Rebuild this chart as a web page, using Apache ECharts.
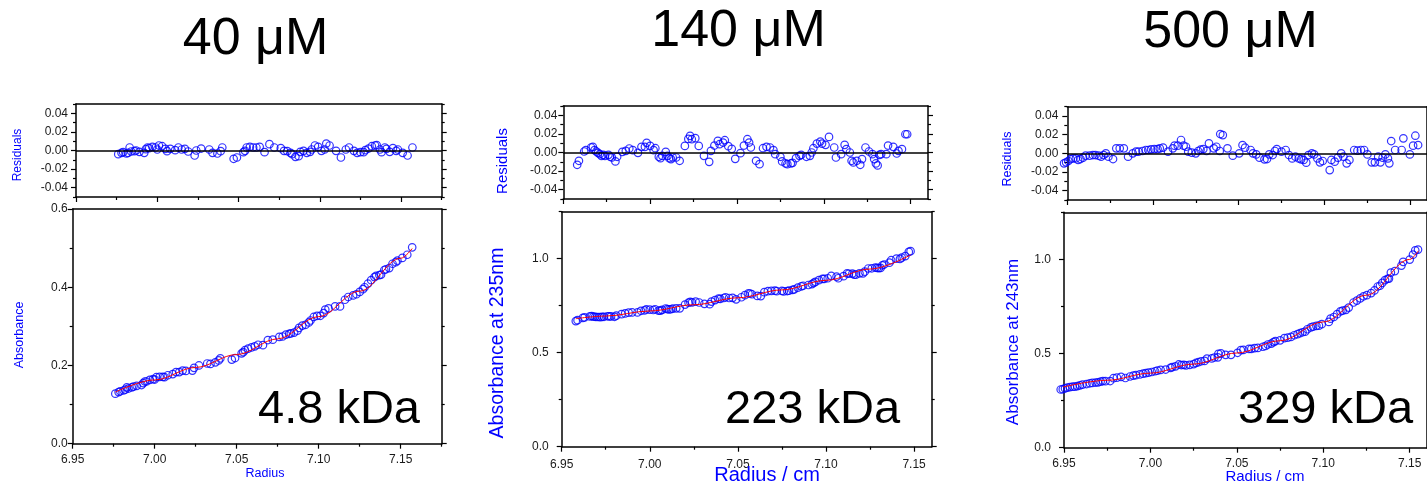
<!DOCTYPE html>
<html><head><meta charset="utf-8">
<script src="https://cdn.jsdelivr.net/npm/echarts@6/dist/echarts.min.js"></script>
<style>html,body{margin:0;padding:0;background:#fff}#c{width:1427px;height:483px}</style>
</head><body><div id="c"></div>
<script>
// ---------- data ----------
const titles = ['40 μM', '140 μM', '500 μM'];
const massLabels = ['4.8 kDa', '223 kDa', '329 kDa'];
const yTitles = ['Absorbance', 'Absorbance at 235nm', 'Absorbance at 243nm'];
const xTitles = ['Radius', 'Radius / cm', 'Radius / cm'];

const radius40 = [6.976,6.978,6.979,6.981,6.982,6.983,6.984,6.986,6.987,6.989,
6.992,6.993,6.994,6.995,6.997,6.999,7.000,7.001,7.003,7.005,
7.006,7.008,7.011,7.013,7.015,7.017,7.019,7.023,7.024,7.027,
7.032,7.034,7.037,7.039,7.040,7.047,7.049,7.053,7.054,7.055,
7.057,7.059,7.061,7.063,7.066,7.069,7.072,7.076,7.078,7.080,
7.082,7.083,7.085,7.087,7.088,7.090,7.092,7.094,7.095,7.097,
7.099,7.101,7.103,7.104,7.106,7.110,7.113,7.116,7.118,7.121,
7.123,7.125,7.127,7.128,7.130,7.132,7.134,7.135,7.137,7.138,
7.140,7.141,7.143,7.145,7.147,7.148,7.151,7.154,7.157];
const absorbance40 = [0.128,0.132,0.134,0.136,0.138,0.144,0.141,0.144,0.146,0.148,
0.150,0.155,0.159,0.159,0.163,0.165,0.164,0.170,0.171,0.171,
0.170,0.175,0.178,0.183,0.183,0.187,0.186,0.187,0.194,0.200,
0.205,0.204,0.208,0.213,0.218,0.215,0.219,0.231,0.234,0.239,
0.243,0.246,0.249,0.253,0.252,0.265,0.266,0.273,0.274,0.279,
0.281,0.282,0.284,0.289,0.296,0.302,0.304,0.310,0.315,0.324,
0.327,0.327,0.334,0.343,0.346,0.351,0.351,0.368,0.375,0.379,
0.382,0.388,0.395,0.400,0.409,0.418,0.426,0.429,0.431,0.432,
0.444,0.446,0.449,0.460,0.464,0.468,0.475,0.483,0.502];
const residual40 = [-0.0039,-0.0025,-0.0018,-0.0032,-0.0025,0.0032,-0.0011,-0.0007,0.0000,-0.0014,
-0.0025,0.0014,0.0032,0.0025,0.0039,0.0032,0.0011,0.0054,0.0046,0.0018,
-0.0007,0.0018,0.0004,0.0032,0.0011,0.0018,-0.0011,-0.0054,0.0000,0.0021,
0.0011,-0.0025,-0.0032,-0.0007,0.0032,-0.0089,-0.0075,-0.0018,-0.0004,0.0032,
0.0039,0.0032,0.0032,0.0039,-0.0018,0.0068,0.0032,0.0025,-0.0004,-0.0007,
-0.0025,-0.0039,-0.0068,-0.0061,-0.0014,-0.0004,-0.0025,-0.0014,0.0011,0.0054,
0.0039,-0.0004,0.0011,0.0075,0.0054,-0.0004,-0.0075,0.0011,0.0032,-0.0004,
-0.0025,-0.0018,-0.0018,0.0004,0.0021,0.0046,0.0054,0.0057,0.0011,-0.0018,
0.0032,0.0018,-0.0014,0.0025,-0.0004,0.0011,-0.0025,-0.0054,0.0032];
const fitRadius40 = [6.976,7.000,7.025,7.050,7.075,7.100,7.125,7.150,7.157];
const fitAbsorbance40 = [0.132,0.163,0.195,0.228,0.268,0.325,0.390,0.474,0.499];

const radius140 = [6.958,6.959,6.962,6.963,6.966,6.967,6.968,6.969,6.970,6.971,
6.972,6.973,6.974,6.976,6.977,6.978,6.980,6.981,6.984,6.986,
6.988,6.990,6.993,6.995,6.997,6.998,7.000,7.002,7.003,7.005,
7.006,7.007,7.009,7.010,7.011,7.012,7.013,7.015,7.017,7.020,
7.022,7.023,7.024,7.026,7.028,7.031,7.034,7.035,7.037,7.039,
7.040,7.042,7.043,7.045,7.047,7.049,7.052,7.054,7.056,7.057,
7.058,7.061,7.063,7.065,7.067,7.069,7.071,7.072,7.075,7.076,
7.078,7.079,7.081,7.082,7.084,7.086,7.087,7.090,7.092,7.093,
7.094,7.096,7.098,7.099,7.101,7.103,7.106,7.107,7.110,7.112,
7.113,7.115,7.116,7.117,7.119,7.121,7.122,7.124,7.126,7.128,
7.129,7.130,7.131,7.132,7.133,7.136,7.137,7.140,7.142,7.143,
7.145,7.147,7.148];
const absorbance140 = [0.668,0.673,0.685,0.688,0.693,0.695,0.692,0.691,0.690,0.690,
0.689,0.691,0.691,0.694,0.693,0.693,0.691,0.697,0.705,0.709,
0.713,0.714,0.714,0.723,0.725,0.730,0.729,0.727,0.731,0.724,
0.724,0.728,0.735,0.732,0.730,0.731,0.734,0.736,0.736,0.756,
0.766,0.770,0.768,0.772,0.767,0.760,0.758,0.772,0.780,0.788,
0.786,0.791,0.795,0.791,0.792,0.784,0.795,0.806,0.816,0.815,
0.811,0.802,0.801,0.822,0.827,0.829,0.830,0.827,0.829,0.826,
0.828,0.830,0.834,0.837,0.846,0.853,0.856,0.860,0.865,0.871,
0.877,0.886,0.893,0.893,0.896,0.909,0.905,0.896,0.907,0.922,
0.920,0.921,0.915,0.915,0.922,0.922,0.931,0.948,0.949,0.953,
0.951,0.950,0.951,0.965,0.969,0.979,0.992,1.000,0.999,1.006,
1.014,1.036,1.040];
const residual140 = [-0.0132,-0.0089,0.0011,0.0025,0.0054,0.0061,0.0025,0.0011,-0.0004,-0.0018,
-0.0036,-0.0025,-0.0036,-0.0025,-0.0046,-0.0054,-0.0096,-0.0046,0.0007,0.0018,
0.0043,0.0025,-0.0004,0.0061,0.0061,0.0104,0.0071,0.0025,0.0046,-0.0046,
-0.0061,-0.0036,0.0007,-0.0036,-0.0061,-0.0071,-0.0054,-0.0054,-0.0089,0.0071,
0.0146,0.0179,0.0143,0.0154,0.0071,-0.0036,-0.0100,0.0018,0.0075,0.0125,
0.0089,0.0107,0.0132,0.0068,0.0039,-0.0068,-0.0007,0.0075,0.0143,0.0107,
0.0054,-0.0089,-0.0125,0.0046,0.0061,0.0054,0.0025,-0.0018,-0.0046,-0.0096,
-0.0118,-0.0125,-0.0118,-0.0111,-0.0061,-0.0036,-0.0025,-0.0046,-0.0036,0.0000,
0.0046,0.0096,0.0118,0.0096,0.0082,0.0168,0.0054,-0.0054,-0.0018,0.0082,
0.0036,0.0000,-0.0089,-0.0107,-0.0089,-0.0132,-0.0071,0.0054,0.0011,-0.0018,
-0.0071,-0.0118,-0.0139,-0.0025,-0.0018,-0.0018,0.0075,0.0061,-0.0011,0.0018,
0.0036,0.0196,0.0196];
const fitRadius140 = [6.958,6.975,7.000,7.025,7.050,7.075,7.100,7.125,7.148];
const fitAbsorbance140 = [0.681,0.695,0.722,0.755,0.792,0.834,0.885,0.945,1.020];

const radius500 = [6.9481,6.9493,6.9506,6.9519,6.9534,6.9550,6.9563,6.9577,6.9592,6.9607,
6.9630,6.9649,6.9664,6.9683,6.9697,6.9712,6.9725,6.9740,6.9767,6.9786,
6.9806,6.9830,6.9855,6.9882,6.9901,6.9916,6.9939,6.9958,6.9973,6.9989,
7.0008,7.0027,7.0040,7.0059,7.0088,7.0116,7.0126,7.0145,7.0164,7.0179,
7.0193,7.0206,7.0227,7.0250,7.0264,7.0278,7.0294,7.0313,7.0327,7.0355,
7.0370,7.0390,7.0393,7.0408,7.0435,7.0466,7.0504,7.0523,7.0538,
7.0570,7.0584,7.0603,7.0622,7.0651,7.0666,7.0679,7.0699,7.0712,7.0723,
7.0750,7.0775,7.0794,7.0813,7.0832,7.0851,7.0865,7.0880,7.0895,7.0908,
7.0928,7.0941,7.0960,7.0975,7.0991,7.1032,7.1042,7.1061,7.1080,7.1099,
7.1112,7.1131,7.1147,7.1175,7.1194,7.1214,7.1233,7.1252,7.1277,7.1296,
7.1315,7.1328,7.1341,7.1357,7.1372,7.1380,7.1391,7.1414,7.1452,7.1462,
7.1500,7.1519,7.1532,7.1548];
const absorbance500 = [0.309,0.311,0.315,0.319,0.322,0.324,0.324,0.327,0.331,0.335,
0.338,0.342,0.344,0.346,0.347,0.351,0.354,0.353,0.354,0.369,
0.372,0.376,0.370,0.378,0.383,0.385,0.389,0.393,0.396,0.399,
0.402,0.406,0.409,0.413,0.415,0.424,0.428,0.432,0.442,0.439,
0.440,0.437,0.440,0.444,0.450,0.454,0.459,0.461,0.473,0.474,
0.479,0.480,0.498,0.501,0.493,0.493,0.504,0.518,0.519,
0.525,0.525,0.529,0.530,0.536,0.540,0.548,0.553,0.561,0.566,
0.570,0.582,0.584,0.588,0.597,0.603,0.608,0.613,0.616,0.629,
0.639,0.643,0.647,0.648,0.656,0.668,0.685,0.694,0.709,0.724,
0.728,0.732,0.744,0.771,0.781,0.793,0.804,0.810,0.821,0.835,
0.856,0.860,0.875,0.890,0.897,0.898,0.930,0.938,0.967,0.987,
0.999,1.025,1.048,1.052];
const residual500 = [-0.0107,-0.0096,-0.0082,-0.0061,-0.0054,-0.0054,-0.0071,-0.0061,-0.0046,-0.0025,
-0.0025,-0.0018,-0.0018,-0.0025,-0.0036,-0.0018,0.0000,-0.0036,-0.0061,0.0054,
0.0054,0.0054,-0.0036,0.0000,0.0018,0.0018,0.0025,0.0036,0.0036,0.0043,
0.0046,0.0046,0.0054,0.0061,0.0018,0.0054,0.0082,0.0082,0.0143,0.0082,
0.0071,0.0018,0.0007,0.0000,0.0025,0.0039,0.0046,0.0025,0.0107,0.0054,
0.0071,0.0025,0.0207,0.0196,0.0054,-0.0025,0.0000,0.0089,0.0061,
0.0036,0.0000,-0.0011,-0.0046,-0.0064,-0.0061,-0.0011,-0.0018,0.0025,0.0046,
0.0018,0.0036,-0.0018,-0.0054,-0.0036,-0.0054,-0.0064,-0.0071,-0.0100,-0.0018,
0.0000,-0.0011,-0.0054,-0.0096,-0.0082,-0.0179,-0.0071,-0.0089,-0.0046,0.0000,
-0.0036,-0.0107,-0.0071,0.0036,0.0029,0.0036,0.0036,-0.0011,-0.0096,-0.0096,
-0.0036,-0.0096,-0.0046,-0.0011,-0.0054,-0.0107,0.0132,0.0036,0.0036,0.0161,
-0.0011,0.0082,0.0189,0.0089];
const fitRadius500 = [6.948,6.975,7.000,7.025,7.050,7.075,7.100,7.125,7.150,7.155];
const fitAbsorbance500 = [0.319,0.358,0.396,0.444,0.503,0.568,0.668,0.810,1.000,1.045];

// tick values
const radiusMajorTicks = [6.95,7.00,7.05,7.10,7.15];
const radiusMinorTicks = [6.975,7.025,7.075,7.125,7.175];
const residualMajorTicks = [-0.04,-0.02,0.00,0.02,0.04];
const residualMinorTicks = [-0.05,-0.03,-0.01,0.01,0.03,0.05];
const abs40MajorTicks = [0.0,0.2,0.4,0.6];
const abs40MinorTicks = [0.1,0.3,0.5];
const absMajorTicks = [0.0,0.5,1.0];
const absMinorTicks = [0.25,0.75,1.25];

// ---------- drawing ----------
const FONT = '"Liberation Sans", Arial, Helvetica, sans-serif';
const BLUE = '#0000ff';
const LS = {color:'#000', width:1.5};
const TS = {color:'#000', width:1.2};
const within = (arr, lo, hi) => arr.filter(v => v >= lo - 1e-9 && v <= hi + 1e-9);

const option = {animation:false, backgroundColor:'#fff', grid:[], xAxis:[], yAxis:[], series:[], graphic:[]};

function addPlot(p) {
  const g = option.grid.length;
  option.grid.push({left:p.box[0], top:p.box[1], width:p.box[2], height:p.box[3], containLabel:false, show:false});
  const xi = option.xAxis.length, yi = option.yAxis.length;
  const base = {gridIndex:g, type:'value', splitLine:{show:false}, axisPointer:{show:false}, scale:false};
  const xMaj = within(radiusMajorTicks, p.x[0], p.x[1]);
  const xMin = within(radiusMinorTicks, p.x[0], p.x[1]);
  const xr = {min:p.x[0], max:p.x[1]};
  const yr = {min:p.y[0], max:p.y[1]};
  option.xAxis.push(Object.assign({}, base, xr, {position:'bottom',
    axisLine:{show:true, onZero:false, lineStyle:LS},
    axisTick:{show:true, inside:false, length:5, customValues:xMaj, lineStyle:TS},
    axisLabel:{show:p.xLabels, customValues:xMaj, formatter:v=>Number(v).toFixed(2),
      fontSize:p.tickFont, fontFamily:FONT, color:'#1a1a1a', margin:p.xMargin}}));
  option.xAxis.push(Object.assign({}, base, xr, {position:'bottom',
    axisLine:{show:false, onZero:false}, axisTick:{show:true, inside:false, length:3, customValues:xMin, lineStyle:TS},
    axisLabel:{show:false}}));
  option.xAxis.push(Object.assign({}, base, xr, {position:'top',
    axisLine:{show:true, onZero:false, lineStyle:LS}, axisTick:{show:false}, axisLabel:{show:false}}));
  option.yAxis.push(Object.assign({}, base, yr, {position:'left',
    axisLine:{show:true, onZero:false, lineStyle:LS},
    axisTick:{show:true, inside:false, length:5, customValues:p.yMaj, lineStyle:TS},
    axisLabel:{show:true, customValues:p.yMaj, formatter:v=>Number(v).toFixed(p.yDec),
      fontSize:p.tickFont, fontFamily:FONT, color:'#1a1a1a', margin:p.yMargin}}));
  option.yAxis.push(Object.assign({}, base, yr, {position:'left',
    axisLine:{show:false, onZero:false}, axisTick:{show:true, inside:false, length:3, customValues:p.yMin, lineStyle:TS},
    axisLabel:{show:false}}));
  option.yAxis.push(Object.assign({}, base, yr, {position:'right',
    axisLine:{show:true, onZero:false, lineStyle:LS},
    axisTick:{show:true, inside:false, length:5, customValues:p.yMaj, lineStyle:TS}, axisLabel:{show:false}}));
  option.yAxis.push(Object.assign({}, base, yr, {position:'right',
    axisLine:{show:false, onZero:false}, axisTick:{show:true, inside:false, length:3, customValues:p.yMin, lineStyle:TS},
    axisLabel:{show:false}}));
  const scatter = {type:'scatter', xAxisIndex:xi, yAxisIndex:yi, clip:false, symbol:'circle', symbolSize:7.5,
    itemStyle:{color:'rgba(255,255,255,0)', borderColor:BLUE, borderWidth:1.2}, z:3,
    data:p.xs.map((x,i)=>[x, p.ys[i]])};
  if (p.zeroLine) {
    scatter.markLine = {symbol:'none', silent:true, label:{show:false}, animation:false,
      lineStyle:{color:'#000', width:1.5, type:'solid'}, data:[{yAxis:0}]};
  }
  option.series.push(scatter);
  if (p.fitX) {
    option.series.push({type:'line', xAxisIndex:xi, yAxisIndex:yi, showSymbol:false, symbol:'none',
      smooth:0.35, smoothMonotone:'x', lineStyle:{color:'#ff0000', width:1}, z:4,
      data:p.fitX.map((x,i)=>[x, p.fitY[i]])});
  }
}

const cfg = [
  {xmax:7.175, res:[76,104,365.7,93], main:[72.7,209,369,234.7], yMaj:abs40MajorTicks, yMin:abs40MinorTicks, ymax:0.6,
   r:radius40, a:absorbance40, e:residual40, fr:fitRadius40, fa:fitAbsorbance40,
   resMargin:8, mainMargin:5, xMargin:10},
  {xmax:7.16, res:[563.3,106,364.7,93], main:[561.7,211.7,370,235], yMaj:absMajorTicks, yMin:absMinorTicks, ymax:1.25,
   r:radius140, a:absorbance140, e:residual140, fr:fitRadius140, fa:fitAbsorbance140,
   resMargin:6, mainMargin:13, xMargin:12},
  {xmax:7.16, res:[1067.3,106.7,367,93.3], main:[1064,212.3,370.3,235.4], yMaj:absMajorTicks, yMin:absMinorTicks, ymax:1.25,
   r:radius500, a:absorbance500, e:residual500, fr:fitRadius500, fa:fitAbsorbance500,
   resMargin:9, mainMargin:13, xMargin:10}
];

cfg.forEach(c => {
  addPlot({box:c.res, x:[6.95,c.xmax], y:[-0.05,0.05], yMaj:residualMajorTicks, yMin:residualMinorTicks, yDec:2,
    xLabels:false, tickFont:12, yMargin:c.resMargin, xMargin:c.xMargin, xs:c.r, ys:c.e, zeroLine:true});
  addPlot({box:c.main, x:[6.95,c.xmax], y:[0,c.ymax], yMaj:c.yMaj, yMin:c.yMin, yDec:1,
    xLabels:true, tickFont:12, yMargin:c.mainMargin, xMargin:c.xMargin, xs:c.r, ys:c.a, fitX:c.fr, fitY:c.fa});
});

function txt(x, y, text, size, color, align, rot) {
  return {type:'text', x:x, y:y, rotation:rot||0, silent:true, z:10,
    style:{text:text, fontSize:size, fontFamily:FONT, fill:color, align:align||'center', verticalAlign:'middle',
      textAlign:align||'center', textVerticalAlign:'middle'}};
}
const R = Math.PI/2;
option.graphic = [
  txt(255.5, 40, titles[0], 52, '#000'),
  txt(738.5, 31.5, titles[1], 52, '#000'),
  txt(1230.5, 33, titles[2], 52, '#000'),
  txt(258, 410.5, massLabels[0], 47, '#000', 'left'),
  txt(725, 410.5, massLabels[1], 47, '#000', 'left'),
  txt(1238, 410.5, massLabels[2], 47, '#000', 'left'),
  txt(17.5, 155, 'Residuals', 12, BLUE, 'center', R),
  txt(503, 161, 'Residuals', 15, BLUE, 'center', R),
  txt(1008, 159, 'Residuals', 12.5, BLUE, 'center', R),
  txt(19.5, 335, yTitles[0], 12.5, BLUE, 'center', R),
  txt(497.5, 343, yTitles[1], 19.5, BLUE, 'center', R),
  txt(1013, 342, yTitles[2], 17, BLUE, 'center', R),
  txt(265, 474, xTitles[0], 12.5, BLUE),
  txt(767, 475, xTitles[1], 20, BLUE),
  txt(1265, 477, xTitles[2], 15, BLUE)
];

const chart = echarts.init(document.getElementById('c'), null, {renderer:'canvas', width:1427, height:483});
chart.setOption(option);
</script></body></html>
